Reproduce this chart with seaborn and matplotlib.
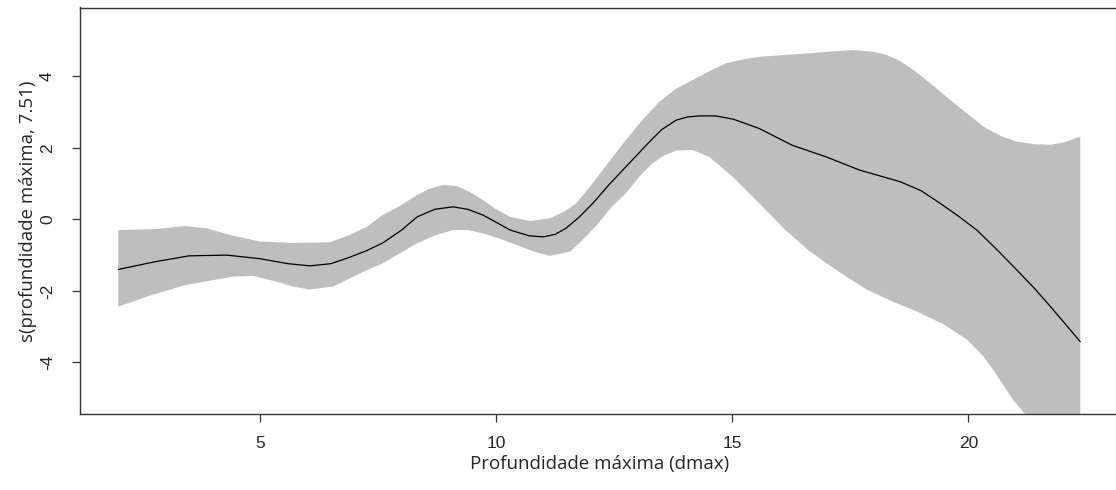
import numpy as np
import pandas as pd
import matplotlib
matplotlib.use("Agg")
import matplotlib.pyplot as plt
import seaborn as sns

# fitted smooth s(profundidade maxima, 7.51)
fit_x = [2.0, 2.8, 3.5, 4.3, 5.0, 5.6, 6.06, 6.5, 6.9, 7.25, 7.6, 8.0, 8.33, 8.7, 9.09, 9.4,
         9.72, 10.0, 10.3, 10.7, 11.0, 11.25, 11.48, 11.75, 12.05, 12.4, 12.75, 13.25, 13.5,
         13.81, 14.05, 14.3, 14.65, 15.02, 15.57, 16.27, 16.98, 17.69, 18.56, 19.0, 19.4,
         19.8, 20.18, 20.6, 21.03, 21.4, 21.74, 22.05, 22.37]
fit_y = [-1.40, -1.18, -1.02, -1.00, -1.10, -1.24, -1.30, -1.24, -1.06, -0.88, -0.66, -0.30,
         0.07, 0.28, 0.35, 0.28, 0.12, -0.08, -0.30, -0.46, -0.49, -0.42, -0.25, 0.05, 0.45,
         0.98, 1.47, 2.17, 2.50, 2.77, 2.86, 2.89, 2.89, 2.80, 2.54, 2.07, 1.75, 1.38, 1.05,
         0.80, 0.45, 0.08, -0.30, -0.84, -1.42, -1.93, -2.44, -2.92, -3.42]

# upper edge of the confidence band
up_x = [2.0, 2.8, 3.41, 3.87, 4.4, 5.0, 5.7, 6.48, 6.9, 7.26, 7.6, 7.97, 8.33, 8.6, 8.88,
        9.17, 9.45, 9.72, 10.0, 10.3, 10.72, 11.14, 11.45, 11.7, 12.04, 12.4, 12.75, 13.1,
        13.46, 13.8, 14.16, 14.5, 14.87, 15.2, 15.57, 16.1, 16.63, 17.1, 17.56, 18.0, 18.28,
        18.56, 18.84, 19.2, 19.62, 20.0, 20.32, 20.7, 21.03, 21.4, 21.74, 22.05, 22.37]
up_y = [-0.30, -0.27, -0.19, -0.25, -0.45, -0.62, -0.66, -0.64, -0.44, -0.21, 0.12, 0.38,
        0.68, 0.86, 0.96, 0.93, 0.76, 0.54, 0.28, 0.07, -0.05, 0.03, 0.22, 0.45, 1.00, 1.62,
        2.22, 2.78, 3.29, 3.64, 3.89, 4.13, 4.36, 4.46, 4.54, 4.59, 4.64, 4.69, 4.73, 4.68,
        4.59, 4.42, 4.17, 3.80, 3.33, 2.93, 2.59, 2.32, 2.17, 2.10, 2.08, 2.16, 2.31]

# lower edge of the confidence band
lo_x = [2.0, 2.7, 3.41, 4.0, 4.43, 4.86, 5.35, 5.7, 6.06, 6.55, 6.9, 7.26, 7.6, 8.0, 8.33,
        8.7, 9.09, 9.4, 9.72, 10.1, 10.44, 10.8, 11.14, 11.57, 11.85, 12.14, 12.45, 12.75,
        13.05, 13.31, 13.55, 13.81, 14.16, 14.51, 15.01, 15.57, 16.13, 16.6, 17.0, 17.45,
        17.86, 18.4, 18.92, 19.5, 19.98, 20.3, 20.53, 20.95, 21.2, 21.74, 22.37]
lo_y = [-2.44, -2.12, -1.84, -1.70, -1.60, -1.58, -1.74, -1.88, -1.96, -1.88, -1.65, -1.42,
        -1.23, -0.92, -0.67, -0.45, -0.30, -0.30, -0.39, -0.55, -0.72, -0.90, -1.02, -0.90,
        -0.55, -0.15, 0.35, 0.73, 1.22, 1.56, 1.78, 1.92, 1.94, 1.75, 1.19, 0.45, -0.30,
        -0.85, -1.23, -1.63, -1.97, -2.30, -2.58, -2.95, -3.37, -3.80, -4.21, -5.05, -5.44,
        -6.6, -7.9]

x_ticks = [5, 10, 15, 20]
y_ticks = [-4, -2, 0, 2, 4]

sns.set_style("white")
plt.rcParams['font.family'] = ['Liberation Sans', 'DejaVu Sans']

fig = plt.figure(figsize=(11.16, 4.9), dpi=100)
ax = fig.add_axes([80 / 1116, 76 / 490, 1039 / 1116, 406.5 / 490])

band_x = np.r_[up_x, lo_x[::-1]]
band_y = np.r_[up_y, lo_y[::-1]]
ax.fill(band_x, band_y, color='#BEBEBE', lw=0)

df = pd.DataFrame({'x': fit_x, 'y': fit_y})
sns.lineplot(data=df, x='x', y='y', ax=ax, color='black', lw=0.9)

ax.set_xlim(1.19, 23.19)
ax.set_ylim(-5.44, 5.92)
ax.set_xticks(x_ticks)
ax.set_yticks(y_ticks)
ax.set_xticklabels([str(t) for t in x_ticks], fontsize=12.5)
ax.set_yticklabels([str(t) for t in y_ticks], fontsize=12.5, rotation=90, va='center')
ax.tick_params(axis='x', direction='out', length=6, width=0.9, color='#333333', pad=10,
               bottom=True)
ax.tick_params(axis='y', direction='out', length=6, width=0.9, color='#333333', pad=12,
               left=True)
for s in ['top', 'left', 'bottom']:
    ax.spines[s].set_color('#333333')
    ax.spines[s].set_linewidth(1.0)
ax.spines['right'].set_visible(False)

ax.set_xlabel('Profundidade máxima (dmax)', family=['Open Sans', 'DejaVu Sans'], fontsize=13.5,
              labelpad=3)
ax.set_ylabel('s(profundidade máxima, 7.51)', family=['Open Sans', 'DejaVu Sans'], fontsize=13.5,
              labelpad=2)

fig.savefig('out.png', dpi=100)
